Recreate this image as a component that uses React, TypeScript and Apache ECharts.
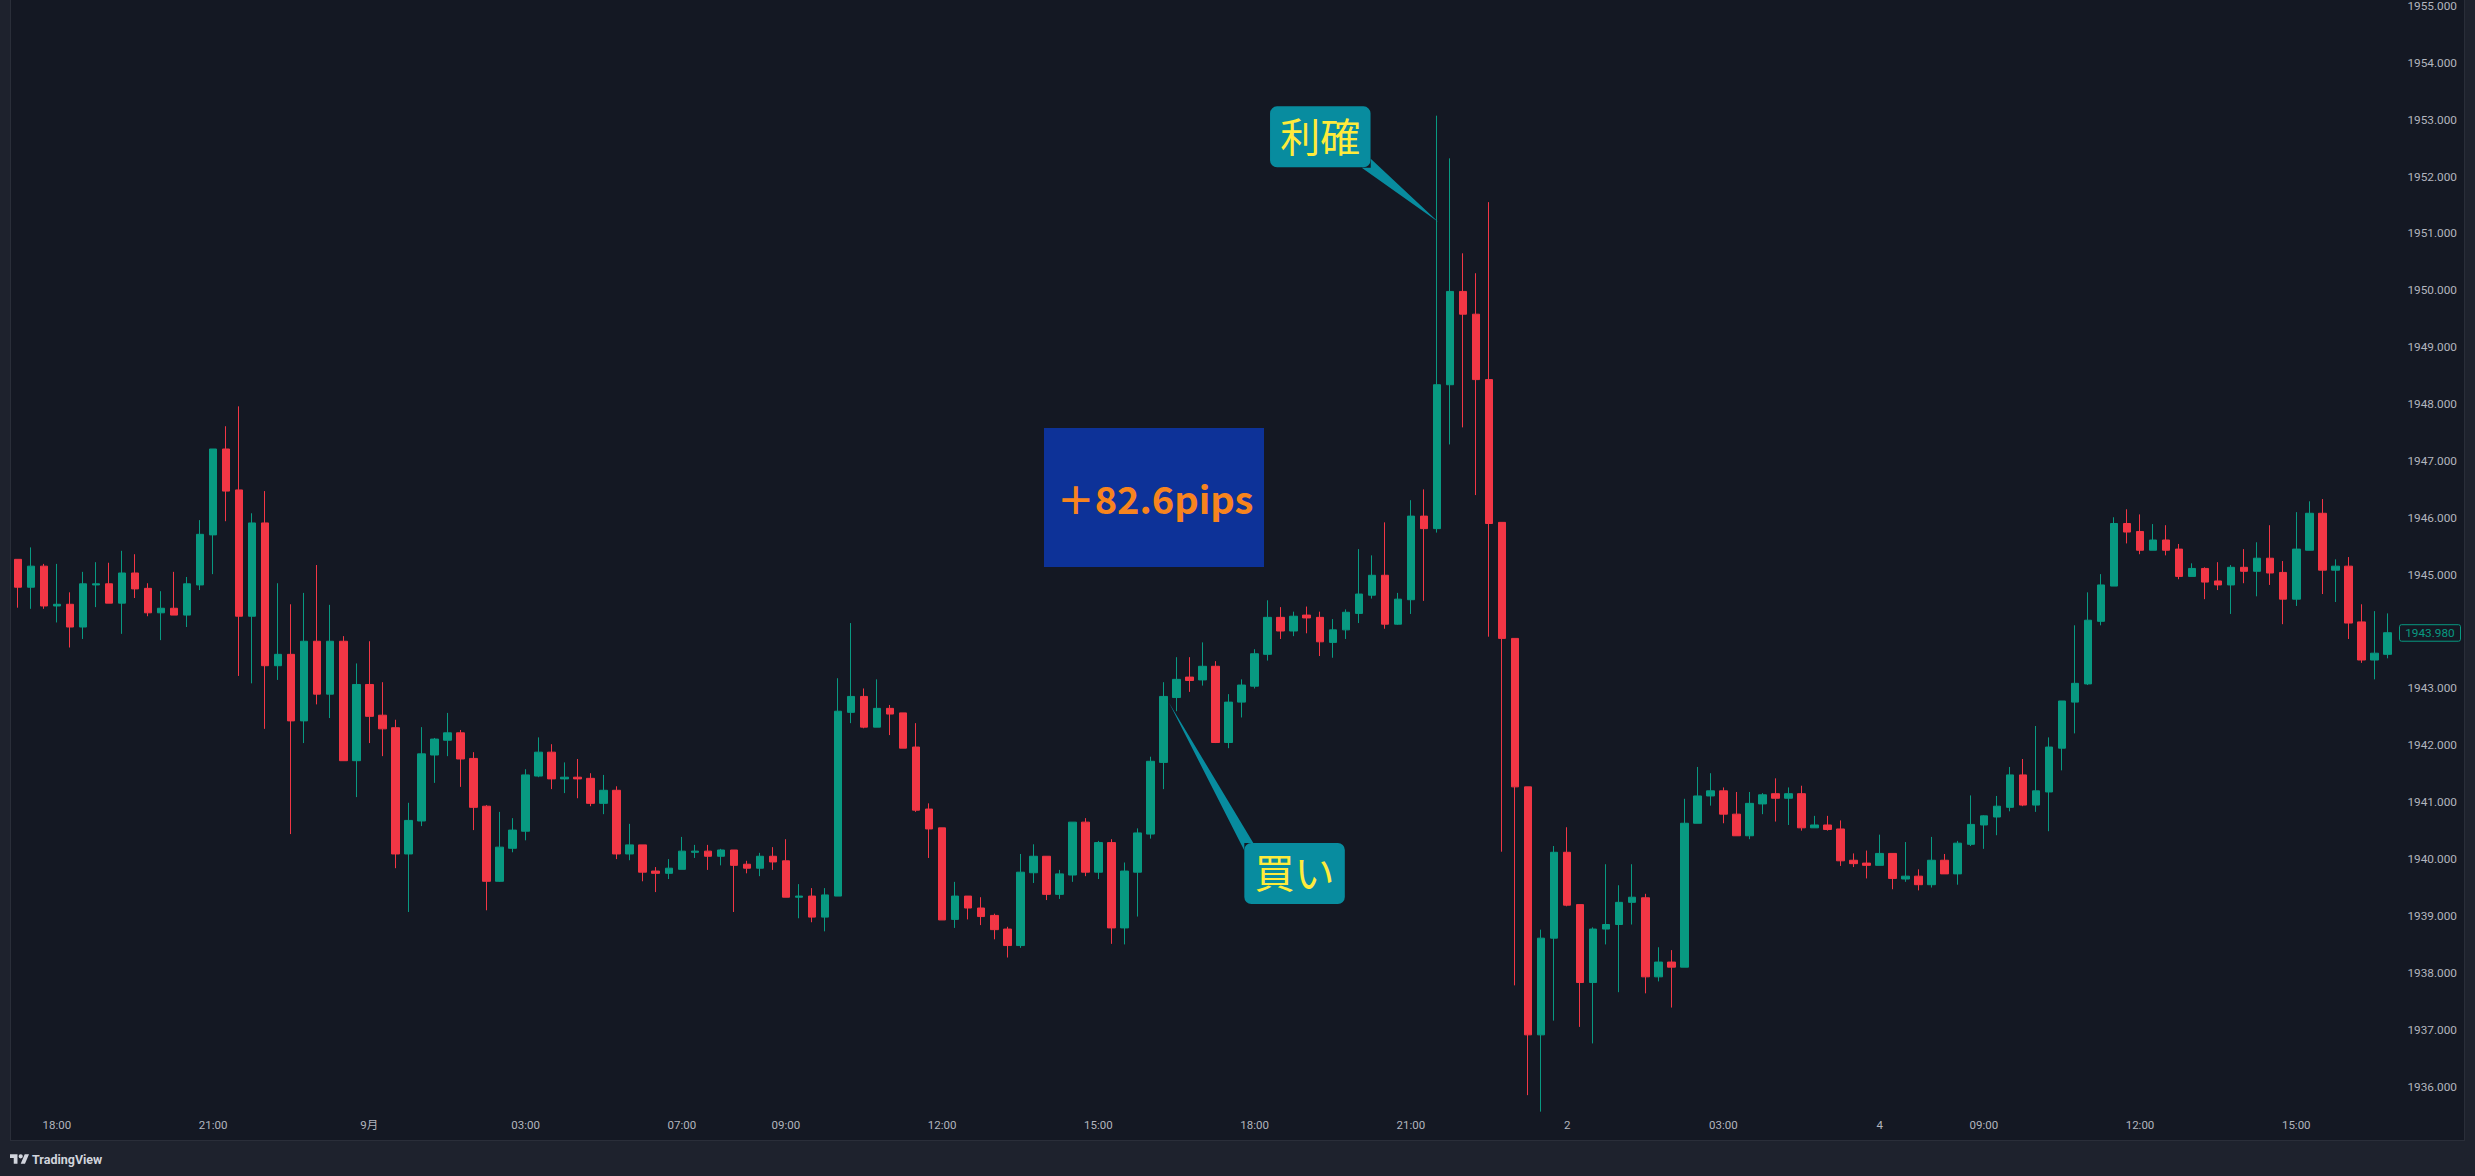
import React, { useEffect, useRef } from "react";
import * as echarts from "echarts";

// ---- data (15-minute XAUUSD candles) ----
const sessionStarts = ["08-31 17:15", "09-01 07:00", "09-04 07:00"];
const sessionLengths = [51, 92, 40];

const opens = [
  1945.27, 1944.78, 1945.15, 1944.45, 1944.48, 1944.08, 1944.82, 1944.84, 1944.5, 1945.03,
  1944.76, 1944.33, 1944.41, 1944.29, 1944.82, 1945.7, 1947.21, 1946.49, 1944.27, 1945.91,
  1943.4, 1943.6, 1942.43, 1943.83, 1942.9, 1943.83, 1941.73, 1943.07, 1942.53, 1942.31,
  1940.09, 1940.67, 1941.83, 1942.09, 1942.22, 1941.77, 1940.93, 1939.61, 1940.19, 1940.49,
  1941.46, 1941.88, 1941.41, 1941.44, 1941.42, 1940.98, 1941.21, 1940.09, 1940.25, 1939.79,
  1939.75, 1939.82, 1940.12, 1940.14, 1940.05, 1940.16, 1939.91, 1939.84, 1940.05, 1939.97,
  1939.33, 1939.35, 1938.98, 1939.35, 1942.58, 1942.86, 1942.32, 1942.65, 1942.57, 1941.97,
  1940.88, 1940.55, 1938.94, 1939.35, 1939.14, 1939.01, 1938.77, 1938.48, 1939.76, 1940.05,
  1939.38, 1939.72, 1940.65, 1939.77, 1940.29, 1938.79, 1939.77, 1940.44, 1941.7, 1942.84,
  1943.2, 1943.15, 1943.39, 1942.05, 1942.76, 1943.04, 1943.6, 1944.25, 1944.01, 1944.29,
  1944.25, 1943.81, 1944.03, 1944.32, 1944.64, 1944.99, 1944.13, 1944.56, 1946.03, 1945.81,
  1948.34, 1949.98, 1949.58, 1948.43, 1945.92, 1943.88, 1941.27, 1936.91, 1938.61, 1940.12,
  1939.2, 1937.83, 1938.77, 1938.85, 1939.24, 1939.32, 1937.93, 1938.19, 1938.1, 1940.63,
  1941.11, 1941.2, 1940.79, 1940.41, 1940.97, 1941.15, 1941.07, 1941.15, 1940.55, 1940.6,
  1940.53, 1939.98, 1939.93, 1939.89, 1940.1, 1939.65, 1939.7, 1939.55, 1939.98, 1939.74,
  1940.26, 1940.6, 1940.74, 1940.91, 1941.48, 1940.95, 1941.18, 1941.95, 1942.76, 1943.08,
  1944.18, 1944.8, 1945.9, 1945.76, 1945.43, 1945.61, 1945.45, 1944.97, 1945.11, 1944.89,
  1944.82, 1945.13, 1945.06, 1945.29, 1945.04, 1944.57, 1945.43, 1946.08, 1945.08, 1945.15,
  1944.17, 1943.5, 1943.6,
];
const highs = [
  1945.27, 1945.48, 1945.19, 1945.19, 1944.69, 1945.05, 1945.22, 1945.21, 1945.42, 1945.36,
  1944.85, 1944.71, 1945.05, 1944.96, 1945.96, 1947.21, 1947.61, 1947.96, 1946.08, 1946.47,
  1944.85, 1944.48, 1944.68, 1945.17, 1944.47, 1943.92, 1943.44, 1943.83, 1943.11, 1942.45,
  1940.99, 1942.32, 1942.13, 1942.57, 1942.27, 1941.88, 1940.95, 1940.83, 1940.72, 1941.58,
  1942.14, 1942.02, 1941.7, 1941.76, 1941.51, 1941.48, 1941.28, 1940.62, 1940.25, 1939.86,
  1940.0, 1940.39, 1940.25, 1940.25, 1940.18, 1940.16, 1939.97, 1940.11, 1940.21, 1940.35,
  1939.56, 1939.49, 1939.49, 1943.18, 1944.15, 1943.0, 1943.16, 1942.71, 1942.57, 1942.39,
  1940.98, 1940.55, 1939.6, 1939.35, 1939.33, 1939.04, 1938.81, 1940.09, 1940.26, 1940.05,
  1939.81, 1940.65, 1940.72, 1940.32, 1940.35, 1939.94, 1940.54, 1941.8, 1943.11, 1943.55,
  1943.55, 1943.81, 1943.48, 1942.9, 1943.16, 1943.69, 1944.55, 1944.43, 1944.35, 1944.44,
  1944.35, 1944.22, 1944.39, 1945.45, 1945.34, 1945.92, 1944.68, 1946.31, 1946.5, 1953.07,
  1952.32, 1950.65, 1950.3, 1951.55, 1945.92, 1943.88, 1941.27, 1938.76, 1940.23, 1940.56,
  1939.2, 1938.8, 1939.91, 1939.54, 1939.91, 1939.39, 1938.45, 1938.4, 1941.06, 1941.62,
  1941.51, 1941.26, 1941.18, 1941.18, 1941.16, 1941.42, 1941.26, 1941.29, 1940.76, 1940.76,
  1940.68, 1940.1, 1940.15, 1940.43, 1940.1, 1940.3, 1939.82, 1940.39, 1940.09, 1940.32,
  1941.12, 1940.77, 1941.11, 1941.62, 1941.76, 1942.34, 1942.14, 1942.78, 1944.11, 1944.69,
  1945.01, 1946.01, 1946.15, 1946.06, 1945.89, 1945.87, 1945.54, 1945.2, 1945.13, 1945.22,
  1945.17, 1945.45, 1945.57, 1945.87, 1945.24, 1946.1, 1946.29, 1946.33, 1945.27, 1945.31,
  1944.48, 1944.36, 1944.32,
];
const lows = [
  1944.42, 1944.4, 1944.4, 1944.16, 1943.72, 1943.87, 1944.43, 1944.5, 1943.96, 1944.59,
  1944.27, 1943.85, 1944.29, 1944.08, 1944.73, 1945.01, 1945.94, 1943.22, 1943.09, 1942.29,
  1943.15, 1940.44, 1942.04, 1942.72, 1942.48, 1941.73, 1941.09, 1942.04, 1941.81, 1939.84,
  1939.07, 1940.58, 1941.34, 1941.81, 1941.27, 1940.51, 1939.1, 1939.6, 1940.12, 1940.33,
  1941.44, 1941.23, 1941.16, 1941.07, 1940.93, 1940.79, 1940.0, 1939.98, 1939.61, 1939.42,
  1939.65, 1939.82, 1940.02, 1939.81, 1939.89, 1939.07, 1939.75, 1939.7, 1939.81, 1939.33,
  1938.96, 1938.89, 1938.73, 1939.35, 1942.39, 1942.3, 1942.32, 1942.18, 1941.95, 1940.83,
  1940.02, 1938.93, 1938.79, 1938.94, 1938.84, 1938.59, 1938.27, 1938.44, 1939.58, 1939.28,
  1939.3, 1939.6, 1939.7, 1939.65, 1938.51, 1938.5, 1938.99, 1940.36, 1941.23, 1942.6,
  1942.94, 1943.05, 1942.04, 1941.95, 1942.49, 1943.0, 1943.49, 1943.87, 1943.92, 1943.97,
  1943.57, 1943.54, 1943.87, 1944.15, 1944.58, 1944.05, 1944.12, 1944.31, 1944.54, 1945.74,
  1947.29, 1947.59, 1946.4, 1943.91, 1940.13, 1937.78, 1935.85, 1935.56, 1937.16, 1939.17,
  1937.05, 1936.76, 1938.5, 1937.66, 1938.85, 1937.64, 1937.85, 1937.39, 1938.1, 1940.63,
  1940.94, 1940.63, 1940.41, 1940.35, 1940.79, 1940.66, 1940.6, 1940.5, 1940.55, 1940.5,
  1939.88, 1939.86, 1939.66, 1939.89, 1939.47, 1939.6, 1939.45, 1939.5, 1939.74, 1939.55,
  1940.23, 1940.18, 1940.42, 1940.84, 1940.93, 1940.83, 1940.49, 1941.56, 1942.21, 1943.06,
  1944.11, 1944.8, 1945.55, 1945.36, 1945.43, 1945.34, 1944.92, 1944.97, 1944.57, 1944.73,
  1944.31, 1944.85, 1944.62, 1944.82, 1944.13, 1944.45, 1945.43, 1944.66, 1944.52, 1943.87,
  1943.45, 1943.16, 1943.53,
];
const closes = [
  1944.78, 1945.15, 1944.45, 1944.48, 1944.08, 1944.84, 1944.84, 1944.5, 1945.03, 1944.75,
  1944.33, 1944.41, 1944.29, 1944.84, 1945.71, 1947.21, 1946.47, 1944.27, 1945.91, 1943.4,
  1943.6, 1942.43, 1943.83, 1942.9, 1943.83, 1941.73, 1943.07, 1942.51, 1942.29, 1940.09,
  1940.68, 1941.85, 1942.11, 1942.22, 1941.76, 1940.91, 1939.61, 1940.21, 1940.51, 1941.48,
  1941.88, 1941.41, 1941.44, 1941.41, 1940.98, 1941.21, 1940.09, 1940.25, 1939.77, 1939.75,
  1939.84, 1940.14, 1940.14, 1940.05, 1940.16, 1939.89, 1939.84, 1940.05, 1939.95, 1939.33,
  1939.35, 1938.98, 1939.37, 1942.6, 1942.86, 1942.32, 1942.65, 1942.55, 1941.95, 1940.86,
  1940.53, 1938.93, 1939.35, 1939.14, 1938.99, 1938.76, 1938.48, 1939.77, 1940.05, 1939.38,
  1939.74, 1940.65, 1939.77, 1940.29, 1938.79, 1939.79, 1940.46, 1941.72, 1942.86, 1943.16,
  1943.14, 1943.39, 1942.05, 1942.76, 1943.06, 1943.61, 1944.25, 1944.01, 1944.27, 1944.24,
  1943.82, 1944.03, 1944.34, 1944.66, 1944.99, 1944.13, 1944.57, 1946.03, 1945.81, 1948.34,
  1949.98, 1949.58, 1948.43, 1945.9, 1943.88, 1941.27, 1936.91, 1938.61, 1940.12, 1939.19,
  1937.83, 1938.77, 1938.85, 1939.24, 1939.33, 1937.93, 1938.19, 1938.1, 1940.63, 1941.11,
  1941.2, 1940.79, 1940.41, 1940.98, 1941.13, 1941.07, 1941.15, 1940.55, 1940.6, 1940.52,
  1939.97, 1939.92, 1939.89, 1940.1, 1939.66, 1939.7, 1939.55, 1939.98, 1939.74, 1940.28,
  1940.61, 1940.76, 1940.93, 1941.48, 1940.95, 1941.2, 1941.97, 1942.78, 1943.09, 1944.2,
  1944.82, 1945.9, 1945.75, 1945.43, 1945.61, 1945.43, 1944.97, 1945.11, 1944.87, 1944.82,
  1945.13, 1945.06, 1945.29, 1945.03, 1944.57, 1945.45, 1946.08, 1945.08, 1945.15, 1944.15,
  1943.5, 1943.62, 1943.98,
];

const tickTimes = [
  "08-31 18:00", "08-31 21:00", "09-01 00:00", "09-01 03:00", "09-01 07:00", "09-01 09:00",
  "09-01 12:00", "09-01 15:00", "09-01 18:00", "09-01 21:00", "09-02 00:00", "09-02 03:00",
  "09-04 07:00", "09-04 09:00", "09-04 12:00", "09-04 15:00",
];
const tickTexts = [
  "18:00", "21:00", "9月", "03:00", "07:00", "09:00", "12:00", "15:00", "18:00", "21:00",
  "2", "03:00", "4", "09:00", "12:00", "15:00",
];

const buyTime = "09-01 16:15";
const buyPrice = 1942.75;
const exitTime = "09-01 21:30";
const exitPrice = 1951.2;
const buyText = "買い";
const exitText = "利確";
const pipsText = "＋82.6pips";

const pad = (n: number) => (n < 10 ? "0" + n : "" + n);

function buildCategories(): string[] {
  const out: string[] = [];
  sessionStarts.forEach((s, k) => {
    const [md, hm] = s.split(" ");
    const [mo, d] = md.split("-").map(Number);
    const [h, m] = hm.split(":").map(Number);
    let t = h * 60 + m;
    for (let j = 0; j < sessionLengths[k]; j++) {
      let dd = d + Math.floor(t / 1440);
      let mm = mo;
      if (mm === 8 && dd > 31) {
        mm = 9;
        dd -= 31;
      }
      const tm = t % 1440;
      out.push(`${pad(mm)}-${pad(dd)} ${pad(Math.floor(tm / 60))}:${pad(tm % 60)}`);
      t += 15;
    }
  });
  return out;
}

const UP = "#089981";
const DOWN = "#f23645";
const PANE = "#141823";
const FRAME = "#1e222d";
const BORDER = "#2a2e39";
const LABEL = "#b2b5be";
const CALLOUT = "#088c9f";
const CALLOUT_TEXT = "#ffeb3b";
const AXIS_FONT = 'Roboto, "Noto Sans CJK JP", sans-serif';
const CJK_FONT = '"Noto Sans CJK JP", sans-serif';

const W = 2475;
const H = 1176;

export default function App() {
  const ref = useRef<HTMLDivElement>(null);

  useEffect(() => {
    if (!ref.current) return;
    const chart = echarts.init(ref.current, undefined, { renderer: "svg", width: W, height: H });
    const categories = buildCategories();
    const data = categories.map((_, i) => [opens[i], closes[i], lows[i], highs[i]]);
    const last = closes[closes.length - 1];

    chart.setOption({
      animation: false,
      backgroundColor: PANE,
      grid: { left: 11.25, right: 81.1, top: 5.5, bottom: 32.5, containLabel: false },
      xAxis: {
        type: "category",
        data: categories,
        boundaryGap: true,
        axisLine: { show: false },
        axisTick: { show: false },
        splitLine: { show: false },
        axisLabel: {
          interval: (_idx: number, val: string) => tickTimes.indexOf(val) >= 0,
          formatter: (val: string) => {
            const k = tickTimes.indexOf(val);
            return k >= 0 ? tickTexts[k] : "";
          },
          color: LABEL,
          fontSize: 11.5,
          fontFamily: AXIS_FONT,
          margin: -23.8,
        },
      },
      yAxis: {
        type: "value",
        position: "right",
        min: 1935,
        max: 1955,
        interval: 1,
        scale: true,
        axisLine: { show: false },
        axisTick: { show: false },
        splitLine: { show: false },
        axisLabel: {
          showMinLabel: false,
          color: LABEL,
          fontSize: 11.8,
          fontFamily: AXIS_FONT,
          margin: 13.5,
          // the current-price tag covers the nearest scale label
          formatter: (v: number) => (Math.abs(v - last) < 0.35 ? "" : v.toFixed(3)),
        },
      },
      series: [
        {
          type: "candlestick",
          data,
          barWidth: 8,
          clip: true,
          itemStyle: {
            color: UP,
            color0: DOWN,
            borderColor: UP,
            borderColor0: DOWN,
            borderColorDoji: UP,
            borderWidth: 1,
          },
        },
      ],
    });

    const buy = chart.convertToPixel({ gridIndex: 0 }, [categories.indexOf(buyTime), buyPrice]) as number[];
    const exit = chart.convertToPixel({ gridIndex: 0 }, [categories.indexOf(exitTime), exitPrice]) as number[];
    const lastPx = chart.convertToPixel({ gridIndex: 0 }, [categories.length - 1, last]) as number[];
    const bx = buy[0] + 5.5;
    const by = buy[1];
    const ex = exit[0] + 1.4;
    const ey = exit[1];
    const ly = lastPx[1];

    // TradingView logo
    try {
      echarts.graphic.registerShape(
        "tvlogo",
        echarts.graphic.extendPath(
          "M14 22H7V11H0V4h14v18zM28 22h-8l7.5-18h8L28 22zM20 4a4 4 0 1 1 0 8a4 4 0 1 1 0-8z",
          {}
        )
      );
    } catch (e) {
      /* already registered */
    }

    const boxW = 100.5;
    const boxH = 61;

    chart.setOption({
      graphic: [
        // frame strips
        { type: "rect", z: 50, silent: true, shape: { x: 0, y: 0, width: 10, height: H }, style: { fill: FRAME } },
        { type: "rect", z: 50, silent: true, shape: { x: 2465, y: 0, width: 10, height: H }, style: { fill: FRAME } },
        { type: "rect", z: 50, silent: true, shape: { x: 0, y: 1140, width: W, height: 36 }, style: { fill: FRAME } },
        { type: "line", z: 51, silent: true, shape: { x1: 10.5, y1: 0, x2: 10.5, y2: 1140 }, style: { stroke: BORDER, lineWidth: 1 } },
        { type: "line", z: 51, silent: true, shape: { x1: 2464.5, y1: 0, x2: 2464.5, y2: 1140 }, style: { stroke: BORDER, lineWidth: 1 } },
        { type: "line", z: 51, silent: true, shape: { x1: 10, y1: 1140.5, x2: 2465, y2: 1140.5 }, style: { stroke: BORDER, lineWidth: 1 } },
        // logo
        { type: "tvlogo", z: 52, silent: true, x: 10, y: 1152, scaleX: 0.535, scaleY: 0.535, style: { fill: "#d1d4dc" } },
        {
          type: "text",
          z: 52,
          silent: true,
          x: 32,
          y: 1159,
          style: { text: "TradingView", fill: "#d1d4dc", font: `bold 12.5px ${AXIS_FONT}`, textVerticalAlign: "middle" },
        },
        // current price tag
        {
          type: "rect",
          z: 40,
          silent: true,
          shape: { x: 2399.5, y: ly - 8, width: 61, height: 16.5, r: 2 },
          style: { fill: PANE, stroke: UP, lineWidth: 1 },
        },
        {
          type: "text",
          z: 41,
          silent: true,
          x: 2430,
          y: ly + 0.5,
          style: {
            text: last.toFixed(3),
            fill: UP,
            font: `11.8px ${AXIS_FONT}`,
            textAlign: "center",
            textVerticalAlign: "middle",
          },
        },
        // pips box
        { type: "rect", z: 20, silent: true, shape: { x: 1044, y: 428, width: 220, height: 139 }, style: { fill: "#0d3298" } },
        {
          type: "text",
          z: 21,
          silent: true,
          x: 1155,
          y: 497,
          style: {
            text: pipsText,
            fill: "#f7841e",
            font: `bold 38px ${CJK_FONT}`,
            textAlign: "center",
            textVerticalAlign: "middle",
          },
        },
        // buy callout
        {
          type: "polygon",
          z: 20,
          silent: true,
          shape: { points: [[bx, by], [bx + 84.3, by + 140.3], [bx + 75.3, by + 140.3], [bx + 75.3, by + 147.7]] },
          style: { fill: CALLOUT },
        },
        {
          type: "rect",
          z: 20,
          silent: true,
          shape: { x: bx + 75.3, y: by + 140.3, width: boxW, height: boxH, r: 7 },
          style: { fill: CALLOUT },
        },
        {
          type: "text",
          z: 21,
          silent: true,
          x: bx + 75.3 + boxW / 2,
          y: by + 140.3 + boxH / 2 - 2,
          style: {
            text: buyText,
            fill: CALLOUT_TEXT,
            font: `40px ${CJK_FONT}`,
            textAlign: "center",
            textVerticalAlign: "middle",
          },
        },
        // exit callout
        {
          type: "polygon",
          z: 20,
          silent: true,
          shape: { points: [[ex, ey], [ex - 76.6, ey - 54.4], [ex - 67.6, ey - 54.4], [ex - 67.6, ey - 63.4]] },
          style: { fill: CALLOUT },
        },
        {
          type: "rect",
          z: 20,
          silent: true,
          shape: { x: ex - 168.3, y: ey - 115.7, width: boxW, height: boxH, r: 7 },
          style: { fill: CALLOUT },
        },
        {
          type: "text",
          z: 21,
          silent: true,
          x: ex - 168.3 + boxW / 2,
          y: ey - 115.7 + boxH / 2 - 2,
          style: {
            text: exitText,
            fill: CALLOUT_TEXT,
            font: `40px ${CJK_FONT}`,
            textAlign: "center",
            textVerticalAlign: "middle",
          },
        },
      ],
    });

    return () => {
      chart.dispose();
    };
  }, []);

  return (
    <div
      ref={ref}
      style={{ position: "fixed", left: 0, top: 0, width: W, height: H }}
    />
  );
}
